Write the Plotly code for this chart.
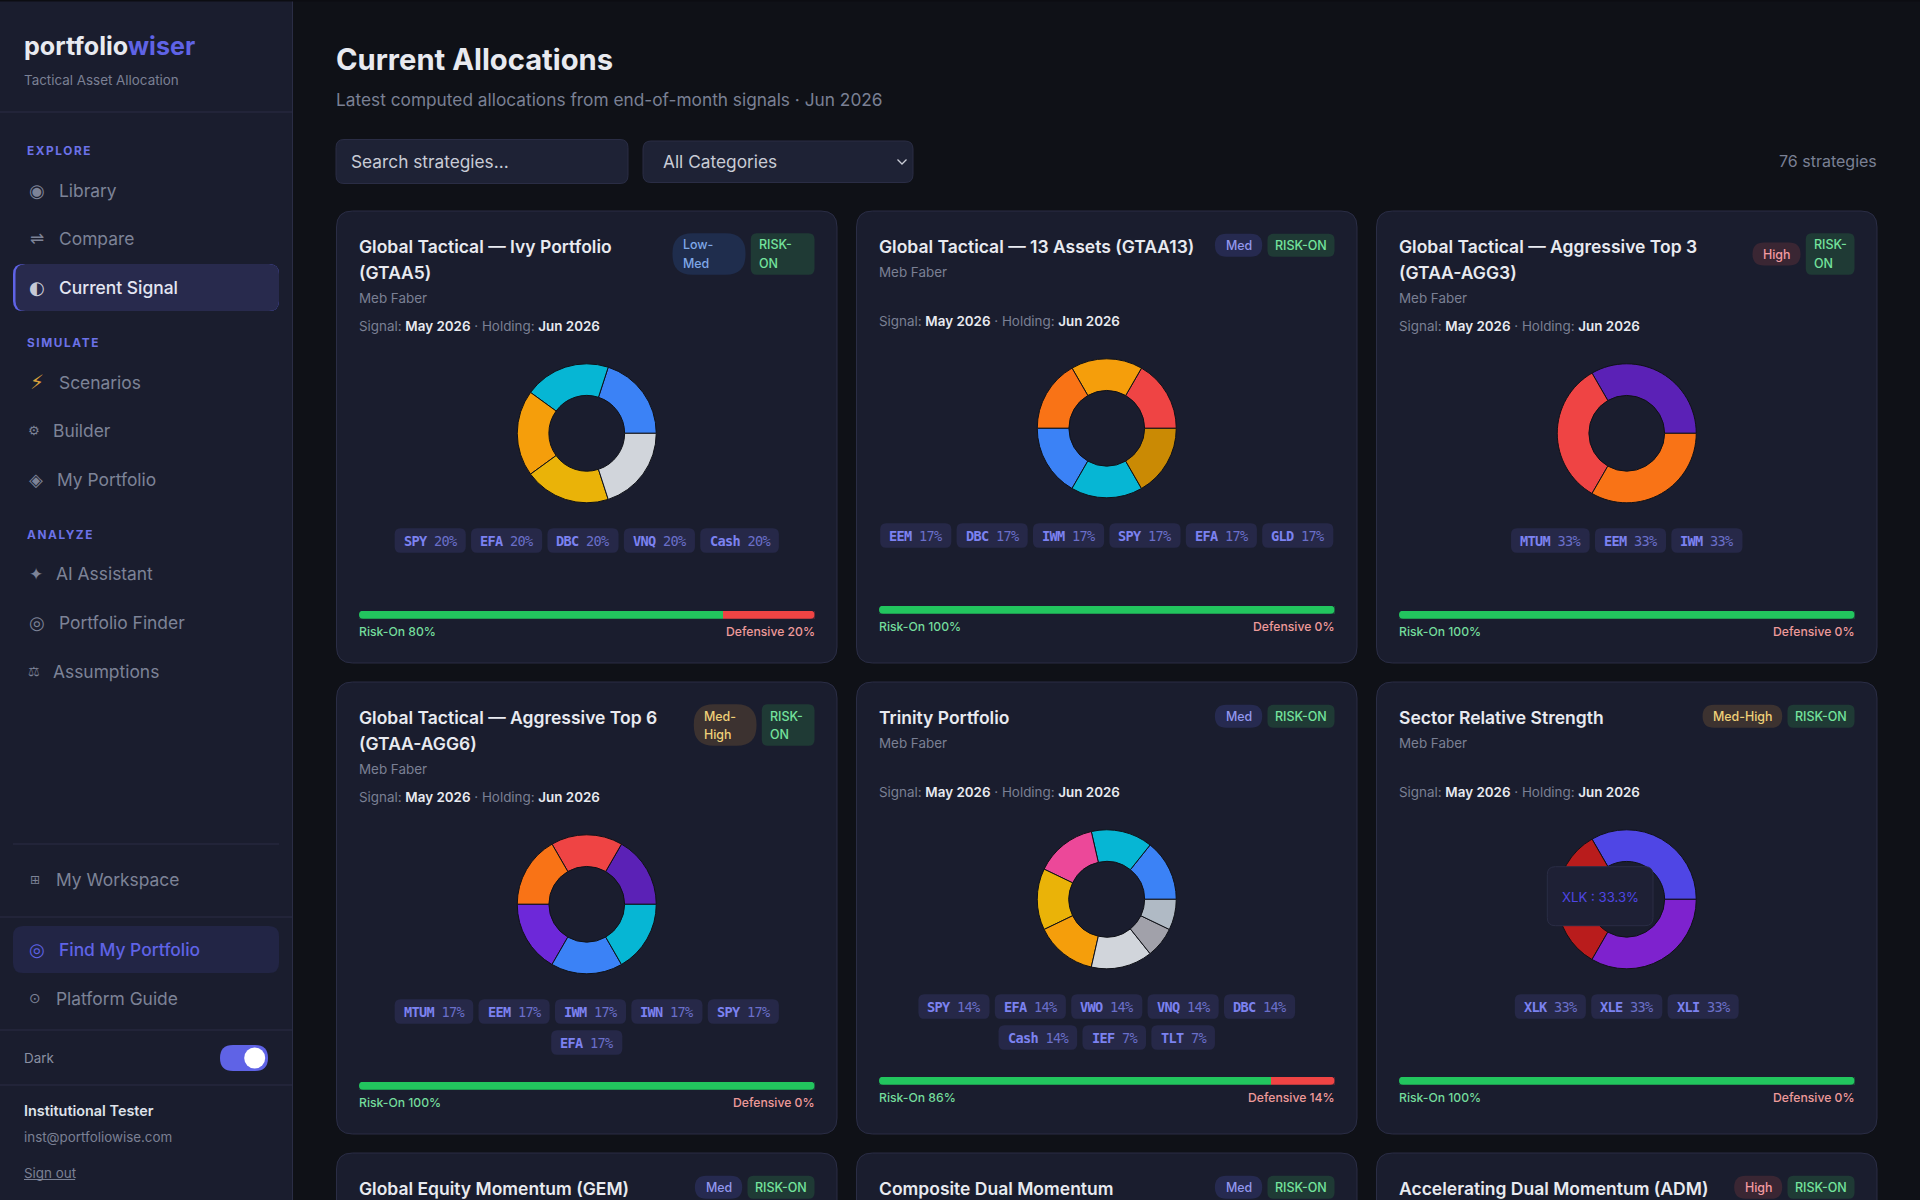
import plotly.graph_objects as go

# ---- chart data ----
gtaa5_tickers = ["SPY", "EFA", "DBC", "VNQ", "Cash"]
gtaa5_weights = [20, 20, 20, 20, 20]
gtaa13_tickers = ["EEM", "DBC", "IWM", "SPY", "EFA", "GLD"]
gtaa13_weights = [17, 17, 17, 17, 17, 17]
agg3_tickers = ["MTUM", "EEM", "IWM"]
agg3_weights = [33, 33, 33]
agg6_tickers = ["MTUM", "EEM", "IWM", "IWN", "SPY", "EFA"]
agg6_weights = [17, 17, 17, 17, 17, 17]
trinity_tickers = ["SPY", "EFA", "VWO", "VNQ", "DBC", "Cash", "IEF", "TLT"]
trinity_weights = [14, 14, 14, 14, 14, 14, 7, 7]
sector_tickers = ["XLK", "XLE", "XLI"]
sector_weights = [33, 33, 33]

card_titles = [
    ["Global Tactical — Ivy Portfolio", "(GTAA5)"],
    ["Global Tactical — 13 Assets (GTAA13)"],
    ["Global Tactical — Aggressive Top 3", "(GTAA-AGG3)"],
    ["Global Tactical — Aggressive Top 6", "(GTAA-AGG6)"],
    ["Trinity Portfolio"],
    ["Sector Relative Strength"],
    ["Global Equity Momentum (GEM)"],
    ["Composite Dual Momentum"],
    ["Accelerating Dual Momentum (ADM)"],
]
card_levels = [
    ["Low-", "Med"], ["Med"], ["High"],
    ["Med-", "High"], ["Med"], ["Med-High"],
    ["Med"], ["Med"], ["High"],
]
card_signals = [
    ["RISK-", "ON"], ["RISK-ON"], ["RISK-", "ON"],
    ["RISK-", "ON"], ["RISK-ON"], ["RISK-ON"],
    ["RISK-ON"], ["RISK-ON"], ["RISK-ON"],
]
risk_on = [80, 100, 100, 100, 86, 100]
defensive = [20, 0, 0, 0, 14, 0]
card_tickers = [gtaa5_tickers, gtaa13_tickers, agg3_tickers, agg6_tickers, trinity_tickers, sector_tickers]
card_weights = [gtaa5_weights, gtaa13_weights, agg3_weights, agg6_weights, trinity_weights, sector_weights]

tooltip_text = "XLK : 33.3%"
strategy_count = "76 strategies"

# ---- styles ----
W, H = 1920, 1200
INTER = "Inter"
MONO = "DejaVu Sans Mono"
ICON = "DejaVu Sans"
BG = "#0f1117"
PANEL = "#1a1d2e"
EDGE = "#2a2d45"
TEXT = "#e8eaf0"
MUTED = "#7a8094"
INDIGO = "#5f63e6"
SECTION = "#6c72e8"

ticker_colors = {
    "SPY": "#3b82f6", "EFA": "#06b6d4", "DBC": "#f59e0b", "VNQ": "#eab308", "Cash": "#d1d5db",
    "EEM": "#ef4444", "IWM": "#f97316", "GLD": "#ca8a04", "MTUM": "#5b21b6", "IWN": "#6d28d9",
    "VWO": "#ec4899", "IEF": "#a1a1aa", "TLT": "#b0bac5",
    "XLK": "#4f46e5", "XLE": "#b91c1c", "XLI": "#7e22ce",
}
level_styles = {
    "Low-Med": ("#1f2d4d", "#7fa8e8"),
    "Med": ("#262a50", "#9297ee"),
    "Med-High": ("#3c3230", "#f0d078"),
    "High": ("#3a2633", "#f39aa0"),
}
SIGNAL_FILL = "#1f3a35"
SIGNAL_TEXT = "#74e39c"
# pill widths per card, the wrapped ones are narrower or wider depending on the title
level_widths = [73, 47.3, 48, 62.7, 47.3, 79.6, 47.3, 47.3, 48]
signal_widths = [63.7, 67, 48.7, 52.7, 67, 67, 67, 67, 67]

card_lefts = [336.5, 856.5, 1376.5]
card_tops = [211, 682, 1153]
CARD_W = 500.5
CARD_H = 452
PAD = 22.5
DONUT = 139
TAG_H = 24.7
TAG_GAP = 5.3
BAR_H = 8

shapes = []
notes = []


def fx(x):
    return x / W


def fy(y):
    return 1 - y / H


def rrect(x0, y0, x1, y1, r, fill, line=None, layer="below"):
    p = (
        f"M {fx(x0 + r)},{fy(y0)} L {fx(x1 - r)},{fy(y0)} Q {fx(x1)},{fy(y0)} {fx(x1)},{fy(y0 + r)} "
        f"L {fx(x1)},{fy(y1 - r)} Q {fx(x1)},{fy(y1)} {fx(x1 - r)},{fy(y1)} "
        f"L {fx(x0 + r)},{fy(y1)} Q {fx(x0)},{fy(y1)} {fx(x0)},{fy(y1 - r)} "
        f"L {fx(x0)},{fy(y0 + r)} Q {fx(x0)},{fy(y0)} {fx(x0 + r)},{fy(y0)} Z"
    )
    shapes.append(dict(
        type="path", path=p, xref="paper", yref="paper", fillcolor=fill, layer=layer,
        line=dict(color=line or fill, width=1 if line else 0),
    ))


def hline(x0, x1, y, color=EDGE, width=1):
    shapes.append(dict(
        type="line", xref="paper", yref="paper", x0=fx(x0), x1=fx(x1), y0=fy(y), y1=fy(y),
        line=dict(color=color, width=width), layer="below",
    ))


def label(x, y, s, size, color, weight=400, anchor="left", family=INTER):
    notes.append(dict(
        x=fx(x), y=fy(y), xref="paper", yref="paper", text=s, showarrow=False,
        xanchor=anchor, yanchor="middle", align=anchor, borderpad=0, borderwidth=0,
        font=dict(family=family, size=size, color=color, weight=weight),
    ))


# ---- sidebar ----
shapes.append(dict(type="rect", xref="paper", yref="paper", x0=0, x1=fx(292), y0=0, y1=1,
                   fillcolor=PANEL, line=dict(width=0), layer="below"))
hline(292.5, 292.5, 0)
shapes[-1].update(y0=0, y1=1)
hline(0, 1920, 0.5, color="#0c0d12", width=2)

label(23.5, 46, f'portfolio<span style="color:{INDIGO}">wiser</span>', 25.1, TEXT, 700)
label(23.5, 80, "Tactical Asset Allocation", 13.4, MUTED)
hline(0, 292, 112)

nav_rows = [
    ("section", 27, 151, "EXPLORE", None, None, None),
    ("item", 59, 190.5, "Library", "◉", 37, 18),
    ("item", 59, 238.5, "Compare", "⇌", 37, 17),
    ("active", 59, 287.5, "Current Signal", "◐", 37, 18),
    ("section", 27, 343, "SIMULATE", None, None, None),
    ("item", 59, 382, "Scenarios", "⚡", 37, 20),
    ("item", 53, 431, "Builder", "⚙", 34, 13),
    ("item", 57, 479.5, "My Portfolio", "◈", 36, 18),
    ("section", 27, 535, "ANALYZE", None, None, None),
    ("item", 56, 574, "AI Assistant", "✦", 35.5, 17),
    ("item", 59, 622.5, "Portfolio Finder", "◎", 37, 18),
    ("item", 53, 671.5, "Assumptions", "⚖", 34, 13),
    ("item", 55.5, 880, "My Workspace", "⊞", 35, 12),
    ("find", 59, 949.5, "Find My Portfolio", "◎", 37, 18),
    ("item", 56, 998, "Platform Guide", "⊙", 35, 14),
]
rrect(13, 264, 279, 311, 10, INDIGO)
rrect(15.5, 264, 279, 311, 10, "#282a4d")
hline(13, 279, 844)
hline(0, 292, 917)
rrect(13, 926, 279, 973, 10, "#222545")
hline(0, 292, 1030)
hline(0, 292, 1085)

for kind, tx, ty, name, icon, ix, icon_size in nav_rows:
    if kind == "section":
        label(tx, ty, f'<span style="letter-spacing:1.6px">{name}</span>', 11.8, SECTION, 700)
        continue
    color = {"item": "#7d8397", "active": "#e3e5f2", "find": INDIGO}[kind]
    icon_color = "#d9a13c" if name == "Scenarios" else ("#c6c9d6" if kind == "active" else color)
    label(ix, ty, icon, icon_size, icon_color, anchor="center", family=ICON)
    label(tx, ty, name, 17.4, color, 500 if kind != "item" else 400)

label(23.5, 1058, "Dark", 13.4, "#8a90a3")
rrect(220, 1045, 268, 1071, 13, INDIGO)
shapes.append(dict(type="circle", xref="paper", yref="paper", x0=fx(244.2), x1=fx(265.2), y0=fy(1068.5), y1=fy(1047.5),
                   fillcolor="#ffffff", line=dict(width=0), layer="below"))
label(23.5, 1110, "Institutional Tester", 14.4, "#dfe2ea", 600)
label(23.5, 1137, "inst@portfoliowise.com", 13.4, MUTED)
label(23.5, 1173, "Sign out", 13.4, MUTED)
hline(24, 75.2, 1179.5, color=MUTED)

# ---- page header ----
label(336, 59, "Current Allocations", 29.2, TEXT, 700)
label(336, 99.5, "Latest computed allocations from end-of-month signals · Jun 2026", 17.3, MUTED)
rrect(336, 139.5, 628, 183.5, 8, "#1e2235", EDGE)
label(351, 161.5, "Search strategies...", 17.3, "#c9ccd6")
rrect(643, 141, 913, 182.5, 8, "#1e2235", EDGE)
label(662.5, 161.5, "All Categories", 17.3, "#c9ccd6")
shapes.append(dict(type="path", xref="paper", yref="paper", layer="below", line=dict(color="#c9ccd6", width=1.3),
                   path=f"M {fx(897.5)},{fy(159.5)} L {fx(902)},{fy(164)} L {fx(906.5)},{fy(159.5)}"))
label(1877, 161, strategy_count, 16, MUTED, anchor="right")

# ---- cards ----
fig = go.Figure()
axes = {}

for i in range(9):
    left = card_lefts[i % 3]
    top = card_tops[i // 3]
    right = left + CARD_W
    rrect(left, top, right, top + CARD_H, 16, PANEL, EDGE)

    inner_l = left + PAD
    inner_r = right - PAD
    titles = card_titles[i]
    wrapped = len(titles) == 2
    shift = 5 if wrapped else 0

    for n, line in enumerate(titles):
        label(inner_l, top + 35.7 + n * 25.3, line, 17.5, TEXT, 600)

    # level + signal badges
    sig_w = signal_widths[i]
    lvl_w = level_widths[i]
    sig_x0 = inner_r - sig_w
    lvl_x1 = sig_x0 - 5.3
    lvl_x0 = lvl_x1 - lvl_w
    sig_lines = card_signals[i]
    lvl_lines = card_levels[i]
    tall = 41.4
    short = 23
    mid = top + 43 if wrapped else top + 34.3

    sig_h = tall if len(sig_lines) == 2 else short
    rrect(sig_x0, mid - sig_h / 2, inner_r, mid + sig_h / 2, 6, SIGNAL_FILL)
    if len(sig_lines) == 2:
        label(sig_x0 + 8, mid - 9, sig_lines[0], 12.5, SIGNAL_TEXT, 500)
        label(sig_x0 + 8, mid + 9, sig_lines[1], 12.5, SIGNAL_TEXT, 500)
    else:
        label((sig_x0 + inner_r) / 2, mid, sig_lines[0], 12.5, SIGNAL_TEXT, 500, anchor="center")

    lvl_fill, lvl_text = level_styles["".join(lvl_lines)]
    lvl_h = tall if len(lvl_lines) == 2 else short
    rrect(lvl_x0, mid - lvl_h / 2, lvl_x1, mid + lvl_h / 2, lvl_h / 2 if lvl_h < 30 else 20, lvl_fill)
    if len(lvl_lines) == 2:
        label(lvl_x0 + 10.5, mid - 9, lvl_lines[0], 12.4, lvl_text, 500)
        label(lvl_x0 + 10.5, mid + 9, lvl_lines[1], 12.4, lvl_text, 500)
    else:
        label((lvl_x0 + lvl_x1) / 2, mid, lvl_lines[0], 12.4, lvl_text, 500, anchor="center")

    if i >= 6:
        continue

    label(inner_l, top + (87 if wrapped else 61), "Meb Faber", 13.4, MUTED)
    label(inner_l, top + 110 + shift,
          f'Signal: <span style="color:{TEXT};font-weight:600">May 2026</span> · Holding: '
          f'<span style="color:{TEXT};font-weight:600">Jun 2026</span>',
          13.4, MUTED)

    # donut, plotly hangs a ccw first slice off the rotation angle so turn it by its own share
    cx = (inner_l + inner_r) / 2
    cy = top + 217.3 + shift
    tickers = card_tickers[i]
    weights = card_weights[i]
    fig.add_trace(go.Pie(
        labels=tickers, values=weights, hole=0.545, sort=False,
        direction="counterclockwise", rotation=90 - 360 * weights[0] / sum(weights),
        textinfo="none", hoverinfo="skip", showlegend=False, automargin=False,
        marker=dict(colors=[ticker_colors[t] for t in tickers], line=dict(color=BG, width=1)),
        domain=dict(x=[fx(cx - DONUT / 2), fx(cx + DONUT / 2)], y=[fy(cy + DONUT / 2), fy(cy - DONUT / 2)]),
    ))

    # ticker tags, wrapped like the flex row they came from
    rows = [[]]
    used = 0
    for t, w in zip(tickers, weights):
        tag_w = (len(t) + 1 + len(f"{w}%")) * 7.5 + 18.6
        if rows[-1] and used + TAG_GAP + tag_w > inner_r - inner_l:
            rows.append([])
            used = 0
        used += tag_w + (TAG_GAP if rows[-1] else 0)
        rows[-1].append((t, w, tag_w))
    tag_mid = top + 324.5 + shift
    for row in rows:
        total = sum(r[2] for r in row) + TAG_GAP * (len(row) - 1)
        x = cx - total / 2
        for t, w, tag_w in row:
            rrect(x, tag_mid - TAG_H / 2, x + tag_w, tag_mid + TAG_H / 2, 6, "#262848")
            label(x + tag_w / 2, tag_mid,
                  f'<span style="letter-spacing:-0.7px"><b>{t}</b> <span style="color:#6a6fc9">{w}%</span></span>',
                  13.6, "#7c82f0", anchor="center", family=MONO)
            x += tag_w + TAG_GAP
        tag_mid += 31

    # risk bar on its own little axis pair
    n = i + 1
    bar_top = top + 394.7 + shift
    for name, val, color in (("Risk-On", risk_on[i], "#22c55e"), ("Defensive", defensive[i], "#ef4444")):
        fig.add_trace(go.Bar(
            x=[val], y=["mix"], orientation="h", name=name, marker=dict(color=color, line=dict(width=0)),
            xaxis=f"x{n}", yaxis=f"y{n}", showlegend=False, hoverinfo="skip",
        ))
    axes[f"xaxis{n}"] = dict(domain=[fx(inner_l), fx(inner_r)], range=[0, 100], visible=False,
                             anchor=f"y{n}", fixedrange=True)
    axes[f"yaxis{n}"] = dict(domain=[fy(bar_top + BAR_H), fy(bar_top)], range=[-0.5, 0.5], visible=False,
                             anchor=f"x{n}", type="category", fixedrange=True)
    # round the ends of the bar
    r = 4
    for ex, dx in ((inner_l, 1), (inner_r, -1)):
        for ey, dy in ((bar_top, 1), (bar_top + BAR_H, -1)):
            shapes.append(dict(
                type="path", xref="paper", yref="paper", layer="above", fillcolor=PANEL, line=dict(width=0),
                path=f"M {fx(ex)},{fy(ey)} L {fx(ex + dx * r)},{fy(ey)} Q {fx(ex)},{fy(ey)} {fx(ex)},{fy(ey + dy * r)} Z",
            ))

    label(inner_l, top + 415.2 + shift, f"Risk-On {risk_on[i]}%", 12.2, "#74dc9c", 500)
    label(inner_r, top + 415.2 + shift, f"Defensive {defensive[i]}%", 12.2, "#ee9a9a", 500, anchor="right")

# hover tooltip frozen on the sector donut
rrect(1547.3, 866.7, 1653, 925.7, 8, "#1e2035", EDGE, layer="above")
label(1600, 896.5, tooltip_text, 13.2, "#4f46e5", anchor="center")

fig.update_layout(
    width=W, height=H, margin=dict(l=0, r=0, t=0, b=0),
    paper_bgcolor=BG, plot_bgcolor="rgba(0,0,0,0)", barmode="stack", bargap=0,
    shapes=shapes, annotations=notes, hovermode=False, **axes,
)
fig.write_html("out.html", config={"displayModeBar": False},
               post_script="document.body.style.margin='0';document.body.style.background='#0f1117';")
